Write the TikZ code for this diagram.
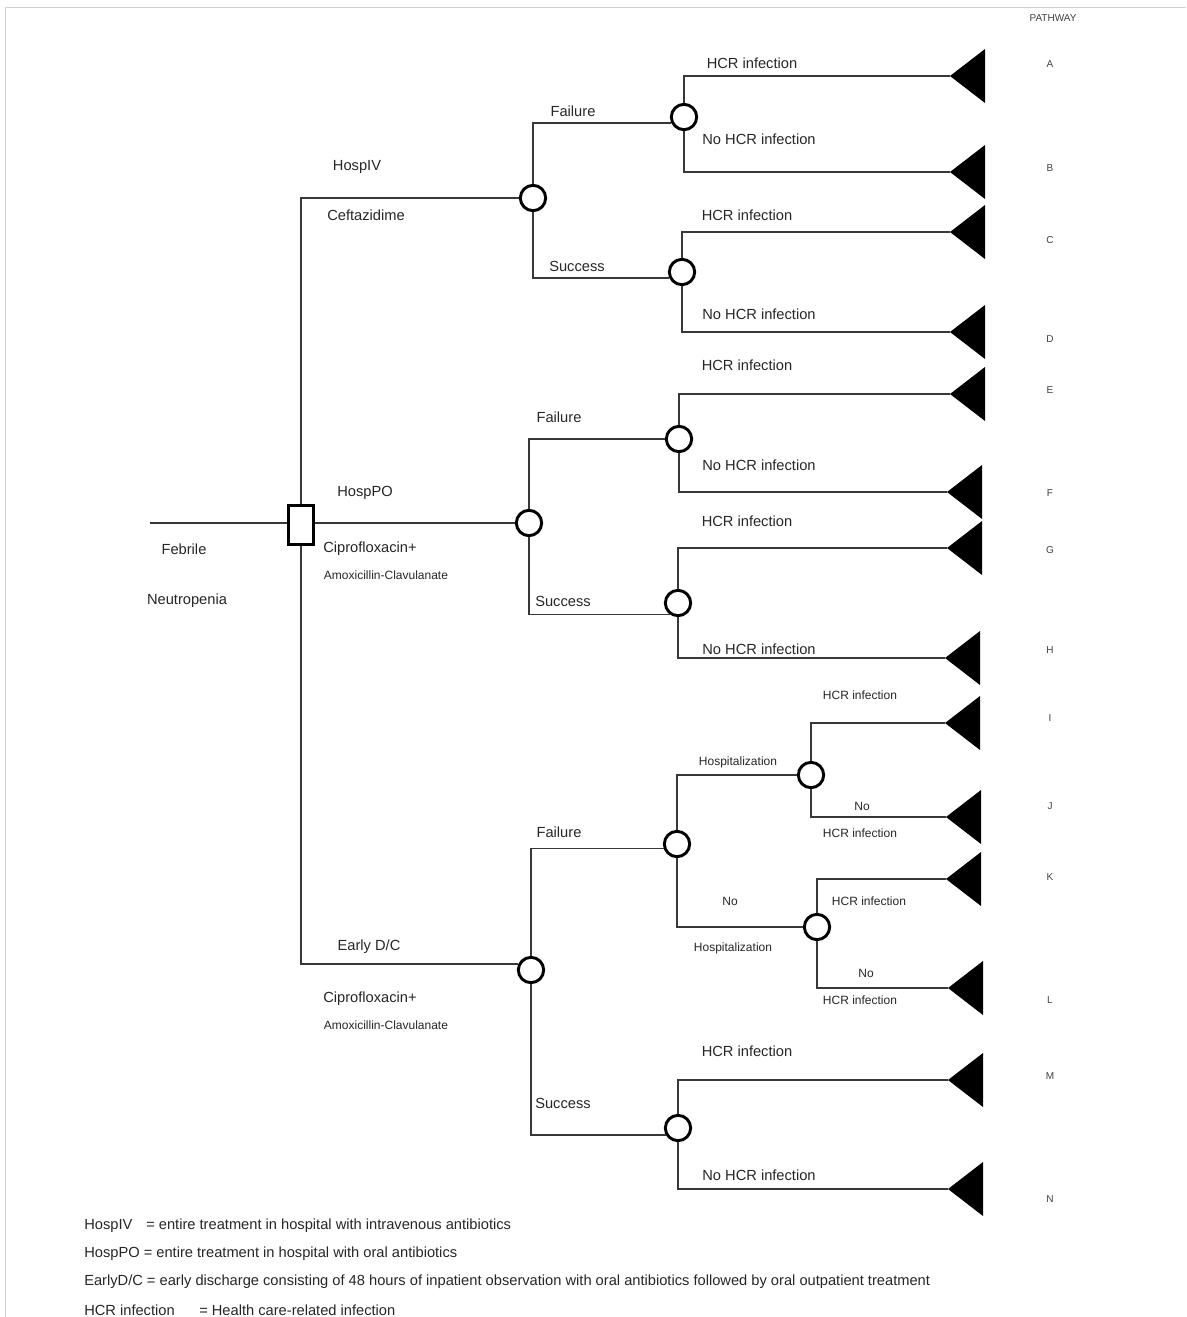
\documentclass[tikz,border=0pt]{standalone}
\usepackage{fontspec}
\setmainfont{Liberation Sans}
\begin{document}
\begin{tikzpicture}[x=0.75pt,y=-0.75pt,
  conn/.style={draw=black!78, line width=1.1pt},
  chance/.style={circle, draw=black, line width=2.2pt, minimum size=19pt, inner sep=0pt, fill=white},
  decision/.style={rectangle, draw=black, line width=2.4pt, minimum width=19pt, minimum height=29pt, inner sep=0pt, fill=white},
  lbl/.style={font=\fontsize{11}{13}\selectfont, text=black!85, inner sep=0pt},
  slbl/.style={font=\fontsize{9}{11}\selectfont, text=black!85, inner sep=0pt},
  plbl/.style={font=\fontsize{7.5}{9}\selectfont, text=black!75, inner sep=0pt},
  leg/.style={lbl, anchor=west},
  term/.style={fill=black}]
\useasboundingbox (0,0) rectangle (1186,1317);
\draw[black!18, line width=0.75pt] (5,1317) -- (5,7) -- (1186,7);

% terminal triangles
\foreach \n/\x/\y in {A/950/76, B/950/172, C/950/232, D/950/332, E/950/394, F/947/492, G/947/548, H/945/658, I/945/723, J/946/817, K/946/879, L/948/988, M/948/1080, N/948/1189} {
  \coordinate (t\n) at (\x,\y);
  \fill[term] (t\n) -- ++(35,-27) -- ++(0,54) -- cycle;
}

% decision and chance nodes
\coordinate (root) at (150,523);
\node[decision] (sq) at (301,525) {};
\node[chance] (c1) at (533,198) {};
\node[chance] (c11) at (684,117) {};
\node[chance] (c12) at (682,272) {};
\node[chance] (c2) at (529,523) {};
\node[chance] (c21) at (679,439) {};
\node[chance] (c22) at (678,603) {};
\node[chance] (c3) at (531,970) {};
\node[chance] (c31) at (677,844) {};
\node[chance] (c311) at (811,775) {};
\node[chance] (c312) at (817,927) {};
\node[chance] (c32) at (678,1128) {};

% connectors
\draw[conn] (root) -- (sq.west |- root);
\draw[conn] (sq) |- (c1);
\draw[conn] (sq.east |- c2) -- (c2);
\draw[conn] (sq) |- (c3.155);
\draw[conn] (c1) |- (c11.205);
\draw[conn] (c1) |- (c12.205);
\draw[conn] (c11) |- (tA);
\draw[conn] (c11) |- (tB);
\draw[conn] (c12) |- (tC);
\draw[conn] (c12) |- (tD);
\draw[conn] (c2) |- (c21);
\draw[conn] (c2) |- (c22.235);
\draw[conn] (c21) |- (tE);
\draw[conn] (c21) |- (tF);
\draw[conn] (c22) |- (tG);
\draw[conn] (c22) |- (tH);
\draw[conn] (c3) |- (c31.198);
\draw[conn] (c3) |- (c32.210);
\draw[conn] (c31) |- (c311);
\draw[conn] (c31) |- (c312);
\draw[conn] (c311) |- (tI);
\draw[conn] (c311) |- (tJ);
\draw[conn] (c312) |- (tK);
\draw[conn] (c312) |- (tL);
\draw[conn] (c32) |- (tM);
\draw[conn] (c32) |- (tN);

% labels
\node[lbl] (lFeb) at (184,549) {Febrile};
\node[lbl] (lNeu) at (187,601) {Neutropenia};

\node[lbl] (lIV) at (357,167) {HospIV};
\node[lbl] (lCef) at (366,215) {Ceftazidime};
\node[lbl] (lF1) at (573,111) {Failure};
\node[lbl] (lS1) at (577,266) {Success};
\node[lbl] (lA) at (752,63) {HCR infection};
\node[lbl] (lB) at (759,139) {No HCR infection};
\node[lbl] (lC) at (747,215) {HCR infection};
\node[lbl] (lD) at (759,314) {No HCR infection};

\node[lbl] (lPO) at (365,493) {HospPO};
\node[lbl] (lCip1) at (370,549) {Ciprofloxacin+};
\node[slbl] (lAmo1) at (386,575) {Amoxicillin-Clavulanate};
\node[lbl] (lF2) at (559,417) {Failure};
\node[lbl] (lS2) at (563,601) {Success};
\node[lbl] (lE) at (747,365) {HCR infection};
\node[lbl] (lF) at (759,465) {No HCR infection};
\node[lbl] (lG) at (747,521) {HCR infection};
\node[lbl] (lH) at (759,649) {No HCR infection};

\node[lbl] (lDC) at (369,947) {Early D/C};
\node[lbl] (lCip2) at (370,999) {Ciprofloxacin+};
\node[slbl] (lAmo2) at (386,1025) {Amoxicillin-Clavulanate};
\node[lbl] (lF3) at (559,832) {Failure};
\node[lbl] (lS3) at (563,1103) {Success};
\node[slbl] (lHo1) at (738,762) {Hospitalization};
\node[slbl] (lI) at (860,695) {HCR infection};
\node[slbl] (lJ1) at (862,806) {No};
\node[slbl] (lJ2) at (860,833) {HCR infection};
\node[slbl] (lNo1) at (730,901) {No};
\node[slbl] (lHo2) at (733,948) {Hospitalization};
\node[slbl] (lK) at (869,901) {HCR infection};
\node[slbl] (lL1) at (866,973) {No};
\node[slbl] (lL2) at (860,1000) {HCR infection};
\node[lbl] (lM) at (747,1051) {HCR infection};
\node[lbl] (lN) at (759,1175) {No HCR infection};

% pathway letters
\node[plbl] (pw) at (1053,18) {PATHWAY};
\foreach \n/\y in {A/64, B/168, C/240, D/339, E/390, F/493, G/550, H/650, I/718, J/806, K/877, L/1000, M/1076, N/1199} {
  \node[plbl] (p\n) at (1050,\y) {\n};
}

% legend
\node[leg] (g1a) at (84,1226) {HospIV};
\node[leg] (g1b) at (146,1226) {= entire treatment in hospital with intravenous antibiotics};
\node[leg] (g2) at (84,1254) {HospPO = entire treatment in hospital with oral antibiotics};
\node[leg] (g3) at (84,1282) {EarlyD/C = early discharge consisting of 48 hours of inpatient observation with oral antibiotics followed by oral outpatient treatment};
\node[leg] (g4a) at (84,1310) {HCR infection};
\node[leg] (g4b) at (199,1310) {= Health care-related infection};
\end{tikzpicture}
\end{document}
